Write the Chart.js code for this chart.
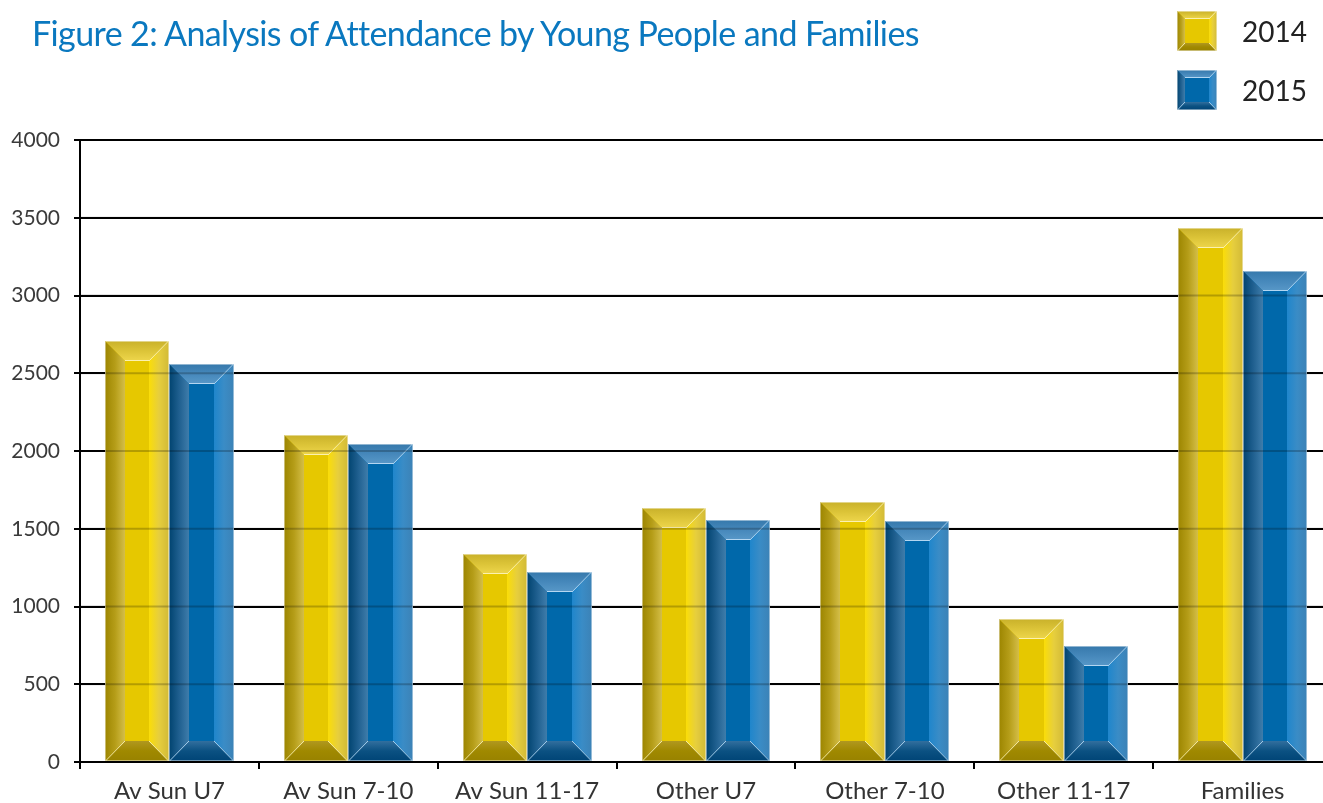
<!DOCTYPE html>
<html>
<head>
<meta charset="utf-8">
<title>Figure 2</title>
<script src="https://cdn.jsdelivr.net/npm/chart.js@4"></script>
<style>
  html, body { margin: 0; padding: 0; background: #fff; overflow: hidden; }
  #wrap { position: relative; width: 1323px; height: 803px; overflow: hidden; }
  #chartBox { position: absolute; left: 0; top: 0; width: 1340px; height: 803px; }
  #title {
    position: absolute; left: 32px; top: 12px; margin: 0;
    font-family: Lato, sans-serif; font-weight: 400; font-size: 34px;
    color: #0a78bf; letter-spacing: -0.6px; white-space: nowrap;
  }
  .leg { position: absolute; left: 1177px; height: 40px; }
  .leg canvas { position: absolute; left: 0; top: 0; }
  .leg span {
    position: absolute; left: 65px; top: 0; line-height: 40px;
    font-family: Lato, sans-serif; font-size: 28px; color: #222;
  }
</style>
</head>
<body>
<div id="wrap">
  <div id="chartBox"><canvas id="chart" width="1340" height="803"></canvas></div>
  <h1 id="title">Figure 2: Analysis of Attendance by Young People and Families</h1>
  <div class="leg" style="top:11px"><canvas id="sw2014" width="40" height="40"></canvas><span>2014</span></div>
  <div class="leg" style="top:70px"><canvas id="sw2015" width="40" height="40"></canvas><span>2015</span></div>
</div>
<script>
// categories and attendance figures
const categories = ['Av Sun U7', 'Av Sun 7-10', 'Av Sun 11-17', 'Other U7', 'Other 7-10', 'Other 11-17', 'Families'];
const values2014 = [2710, 2100, 1335, 1635, 1672, 920, 3435];
const values2015 = [2560, 2045, 1220, 1555, 1550, 745, 3158];
const yTicks = [0, 500, 1000, 1500, 2000, 2500, 3000, 3500, 4000];

// bevel colours: face, left, top, right, bottom
const palettes = {
    '2014': {
        face: '#e6c800',
        left: ['#9c8500', '#b59d18', '#d4be48'],
        top: ['#c9b12a', '#dcc438', '#eed64c'],
        right: ['#fadd08', '#e6ce3e', '#d2ba36'],
        bottom: ['#b09820', '#a08900', '#988200'],
        edge: 'rgba(255,250,210,0.75)'
    },
    '2015': {
        face: '#0068aa',
        left: ['#00436f', '#1f5f8f', '#3f7dab'],
        top: ['#3679ac', '#4688bb', '#5898c8'],
        right: ['#1f86cc', '#3a8cc6', '#3c82b6'],
        bottom: ['#326f9e', '#0b5182', '#004476'],
        edge: 'rgba(210,235,255,0.75)'
    }
};

function grad(ctx, x0, y0, x1, y1, stops) {
    const g = ctx.createLinearGradient(x0, y0, x1, y1);
    stops.forEach((c, i) => g.addColorStop(i / (stops.length - 1), c));
    return g;
}

function poly(ctx, pts, fill) {
    ctx.beginPath();
    ctx.moveTo(pts[0][0], pts[0][1]);
    for (let i = 1; i < pts.length; i++) ctx.lineTo(pts[i][0], pts[i][1]);
    ctx.closePath();
    ctx.fillStyle = fill;
    ctx.fill();
}

// draws a bevelled (picture-frame) box
function drawBevel(ctx, L, T, R, B, bevel, pal) {
    const b = Math.min(bevel, (R - L) / 2 - 4, (B - T) / 2 - 4);
    ctx.save();
    ctx.fillStyle = pal.face;
    ctx.fillRect(L, T, R - L, B - T);
    poly(ctx, [[L, T], [R, T], [R - b, T + b], [L + b, T + b]], grad(ctx, 0, T, 0, T + b, pal.top));
    poly(ctx, [[L, B], [R, B], [R - b, B - b], [L + b, B - b]], grad(ctx, 0, B - b, 0, B, pal.bottom));
    poly(ctx, [[L, T], [L + b, T + b], [L + b, B - b], [L, B]], grad(ctx, L, 0, L + b, 0, pal.left));
    poly(ctx, [[R, T], [R - b, T + b], [R - b, B - b], [R, B]], grad(ctx, R - b, 0, R, 0, pal.right));
    // light edges along the mitres and the inner rim
    ctx.strokeStyle = pal.edge;
    ctx.lineWidth = 1;
    ctx.beginPath();
    ctx.moveTo(L + 0.5, B); ctx.lineTo(L + b, B - b);
    ctx.moveTo(R - 0.5, B); ctx.lineTo(R - b, B - b);
    ctx.moveTo(R - 0.5, T); ctx.lineTo(R - b, T + b);
    ctx.moveTo(L + b, T + b - 0.5); ctx.lineTo(R - b, T + b - 0.5);
    ctx.stroke();
    ctx.strokeStyle = 'rgba(255,255,255,0.45)';
    ctx.strokeRect(L + 0.5, T + 0.5, R - L - 1, B - T - 1);
    ctx.restore();
}

// custom bar renderer using the bar elements' geometry from the scales
const bevelBars = {
    id: 'bevelBars',
    afterDatasetsDraw(chart) {
        const ctx = chart.ctx;
        const area = chart.chartArea;
        chart.data.datasets.forEach((ds, i) => {
            const meta = chart.getDatasetMeta(i);
            const pal = palettes[ds.label];
            meta.data.forEach(el => {
                const p = el.getProps(['x', 'y', 'base', 'width'], true);
                const L = Math.round(p.x - p.width / 2);
                const R = Math.round(p.x + p.width / 2);
                drawBevel(ctx, L, Math.round(p.y), R, Math.round(p.base), 20, pal);
            });
        });
        // grid shows faintly through the bars
        const y = chart.scales.y;
        ctx.save();
        ctx.strokeStyle = 'rgba(0,0,0,0.22)';
        ctx.lineWidth = 2;
        yTicks.slice(1).forEach(v => {
            const py = y.getPixelForValue(v);
            ctx.beginPath();
            ctx.moveTo(area.left, py);
            ctx.lineTo(area.right, py);
            ctx.stroke();
        });
        ctx.restore();
    }
};

const ctx = document.getElementById('chart').getContext('2d');
new Chart(ctx, {
    type: 'bar',
    data: {
        labels: categories,
        datasets: [
            { label: '2014', data: values2014, backgroundColor: 'rgba(0,0,0,0)', borderWidth: 0 },
            { label: '2015', data: values2015, backgroundColor: 'rgba(0,0,0,0)', borderWidth: 0 }
        ]
    },
    options: {
        responsive: false,
        animation: false,
        events: [],
        layout: { padding: { left: 0, right: 8, top: 140, bottom: 0 } },
        datasets: { bar: { barPercentage: 1, categoryPercentage: 0.72 } },
        plugins: {
            legend: { display: false },
            tooltip: { enabled: false },
            title: { display: false }
        },
        scales: {
            x: {
                afterFit(scale) { scale.height = 41; },
                grid: { drawOnChartArea: false, drawTicks: true, tickLength: 7, color: '#000', lineWidth: 2, offset: true },
                border: { color: '#000', width: 2 },
                ticks: {
                    color: '#333',
                    padding: 8,
                    maxRotation: 0,
                    font: { family: 'Lato', size: 24 }
                }
            },
            y: {
                min: 0,
                max: 4000,
                afterFit(scale) { scale.width = 80; },
                afterBuildTicks(scale) { scale.ticks = yTicks.map(v => ({ value: v })); },
                grid: { color: '#000', lineWidth: 2, tickLength: 6 },
                border: { color: '#000', width: 2 },
                ticks: {
                    color: '#3a3a3a',
                    padding: 14,
                    font: { family: 'Lato', size: 21 },
                    callback: v => String(v)
                }
            }
        }
    },
    plugins: [bevelBars]
});

// legend swatches
drawBevel(document.getElementById('sw2014').getContext('2d'), 0, 0, 40, 40, 8, palettes['2014']);
drawBevel(document.getElementById('sw2015').getContext('2d'), 0, 0, 40, 40, 8, palettes['2015']);
</script>
</body>
</html>
